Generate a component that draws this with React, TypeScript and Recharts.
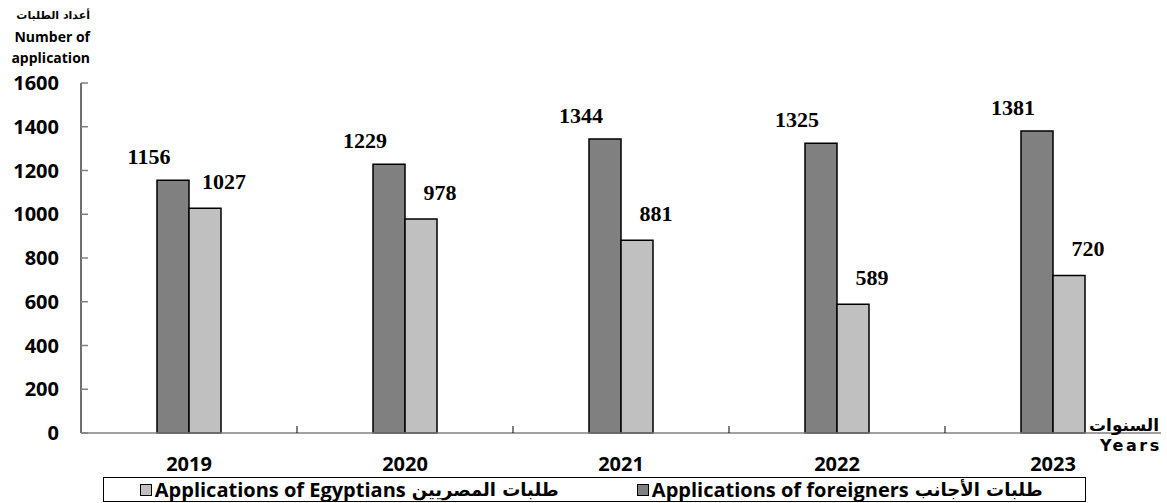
import React from 'react';
import { BarChart, Bar, XAxis, YAxis, LabelList } from 'recharts';

const years = ['2019', '2020', '2021', '2022', '2023'];
const foreigners = [1156, 1229, 1344, 1325, 1381];
const egyptians = [1027, 978, 881, 589, 720];
const yTicks = [0, 200, 400, 600, 800, 1000, 1200, 1400, 1600];

const foreignLabel = ['Applications of foreigners', 'طلبات الأجانب'];
const egyptLabel = ['Applications of Egyptians', 'طلبات المصريين'];

const data = years.map((year, i) => ({
  year,
  foreigners: foreigners[i],
  egyptians: egyptians[i],
}));

const BAND = 216;
const tickFont = '"Open Sans", "DejaVu Sans", sans-serif';

const YTick = (props: any) => {
  const { x, y, payload } = props;
  return (
    <g>
      <line x1={x} y1={y} x2={x + 7} y2={y} stroke="#808080" strokeWidth={1.5} />
      <text x={x - 22} y={y} dy="0.36em" textAnchor="end" fontFamily={tickFont} fontWeight={700} fontSize={20} fill="#000">
        {payload.value}
      </text>
    </g>
  );
};

const XTick = (props: any) => {
  const { x, y, payload, index } = props;
  return (
    <g>
      {index < years.length - 1 && (
        <line x1={x + BAND / 2} y1={y} x2={x + BAND / 2} y2={y - 7} stroke="#000" strokeWidth={1} />
      )}
      <text x={x} y={y + 38} textAnchor="middle" fontFamily={tickFont} fontWeight={700} fontSize={20} fill="#000">
        {payload.value}
      </text>
    </g>
  );
};

const makeLabel = (dx: number, dy: number) => (props: any) => {
  const { x, y, width, value } = props;
  return (
    <text
      x={x + width / 2 + dx}
      y={y + dy}
      dy="0.35em"
      textAnchor="middle"
      fontFamily='"Liberation Serif", "Times New Roman", serif'
      fontWeight={700}
      fontSize={22}
      fill="#000"
    >
      {value}
    </text>
  );
};

const LegendItem = ({ color, text }: { color: string; text: string[] }) => (
  <div style={{ flex: 1, display: 'flex', justifyContent: 'center', alignItems: 'center' }}>
    <span style={{ width: 10, height: 10, background: color, border: '1.5px solid #000', marginRight: 3, display: 'inline-block' }} />
    <span style={{ fontSize: 20 }}>{text[0]}</span>
    <span style={{ fontFamily: '"DejaVu Sans", sans-serif', fontSize: 18, marginLeft: 6 }}>{text[1]}</span>
  </div>
);

export default function App() {
  return (
    <div style={{ position: 'absolute', left: 0, top: 0, width: 1167, height: 503, background: '#fff', overflow: 'hidden' }}>
      <div style={{ position: 'absolute', left: 0, top: 5, width: 90, textAlign: 'right', fontFamily: tickFont, fontWeight: 700, fontSize: 14, lineHeight: '21px', color: '#000' }}>
        <div style={{ fontFamily: '"DejaVu Sans", sans-serif', fontSize: 11 }}>أعداد الطلبات</div>
        <div>Number of</div>
        <div>application</div>
      </div>
      <BarChart
        width={1167}
        height={503}
        data={data}
        margin={{ top: 83, right: 6, bottom: 0, left: 0 }}
        barSize={32}
        barGap={0}
      >
        <YAxis
          width={81}
          domain={[0, 1600]}
          ticks={yTicks}
          interval={0}
          tickSize={0}
          tickMargin={0}
          tickLine={false}
          axisLine={{ stroke: '#404040', strokeWidth: 1.5 }}
          tick={<YTick />}
        />
        <XAxis
          dataKey="year"
          height={70}
          tickSize={0}
          tickMargin={0}
          tickLine={false}
          axisLine={{ stroke: '#808080', strokeWidth: 1.5 }}
          tick={<XTick />}
          interval={0}
        />
        <Bar dataKey="foreigners" fill="#808080" stroke="#000" strokeWidth={1.5} isAnimationActive={false}>
          <LabelList dataKey="foreigners" content={makeLabel(-24, -24)} />
        </Bar>
        <Bar dataKey="egyptians" fill="#c0c0c0" stroke="#000" strokeWidth={1.5} isAnimationActive={false}>
          <LabelList dataKey="egyptians" content={makeLabel(19, -27)} />
        </Bar>
      </BarChart>
      <div style={{ position: 'absolute', left: 1089, top: 415, fontFamily: '"DejaVu Sans", sans-serif', fontWeight: 700, fontSize: 17, color: '#000' }}>
        السنوات
      </div>
      <div style={{ position: 'absolute', left: 1100, top: 436, fontFamily: '"DejaVu Sans", sans-serif', fontWeight: 700, fontSize: 16, letterSpacing: 2.5, color: '#000' }}>
        Years
      </div>
      <div
        style={{
          position: 'absolute',
          left: 103,
          top: 477,
          width: 981,
          height: 23,
          border: '1px solid #000',
          display: 'flex',
          alignItems: 'center',
          fontFamily: tickFont,
          fontWeight: 700,
          color: '#000',
        }}
      >
        <LegendItem color="#c0c0c0" text={egyptLabel} />
        <LegendItem color="#808080" text={foreignLabel} />
      </div>
    </div>
  );
}
